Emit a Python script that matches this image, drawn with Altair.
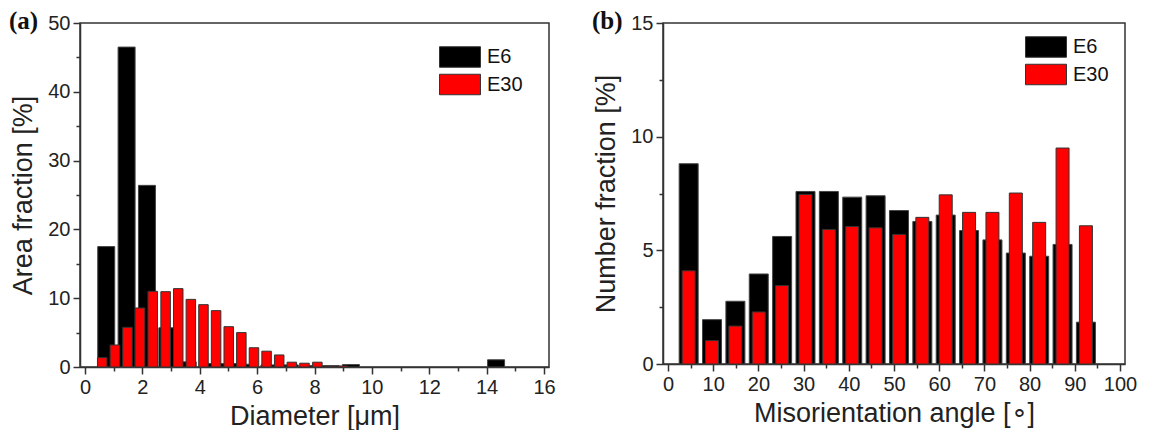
import altair as alt
import pandas as pd

# ---- Panel (a): grain diameter distribution ----
diam_e6_x = [0.74, 1.45, 2.16, 2.87, 3.58, 4.30, 5.01, 5.72, 6.43, 7.14, 7.85, 8.56, 9.27, 14.33]
diam_e6_y = [17.5, 46.5, 26.4, 5.7, 0.75, 0.5, 0.5, 0.4, 0.3, 0.3, 0.2, 0.2, 0.35, 1.05]
diam_e30_x = [0.60, 1.04, 1.48, 1.92, 2.36, 2.81, 3.25, 3.69, 4.13, 4.57,
              5.01, 5.45, 5.89, 6.33, 6.77, 7.21, 7.65, 8.10, 8.54, 8.98]
diam_e30_y = [1.36, 3.2, 5.77, 8.58, 11.0, 10.95, 11.39, 9.83, 9.06, 8.19,
              5.86, 5.0, 2.8, 2.3, 1.75, 0.7, 0.55, 0.7, 0.1, 0.15]

# ---- Panel (b): misorientation angle distribution ----
angle_x = [4.57, 9.74, 14.91, 20.08, 25.25, 30.42, 35.59, 40.76, 45.93,
           51.10, 56.27, 61.44, 66.61, 71.78, 76.95, 82.12, 87.29, 92.46]
angle_e6_y = [8.81, 1.95, 2.76, 3.96, 5.61, 7.59, 7.59, 7.34, 7.40,
              6.75, 6.27, 6.55, 5.87, 5.46, 4.88, 4.74, 5.26, 1.84]
angle_e30_y = [4.10, 1.03, 1.67, 2.29, 3.45, 7.46, 5.92, 6.05, 5.99,
               5.70, 6.45, 7.44, 6.67, 6.67, 7.52, 6.23, 9.50, 6.08]

series = ["E6", "E30"]
colors = ["#000000", "#ff0000"]
panel_labels = ["(a)", "(b)"]

FONT = "Liberation Sans"
color_scale = alt.Scale(domain=series, range=colors)


def legend(x, y):
    return alt.Legend(
        title=None, orient="none", legendX=x, legendY=y,
        symbolType="M-2,-1H2V1H-2Z", symbolSize=420,
        symbolStrokeColor="#333", symbolStrokeWidth=1, symbolOpacity=1,
        labelFont=FONT, labelFontSize=20, labelColor="#111",
        labelOffset=16, rowPadding=1.5, padding=0,
    )


def panel(xs_a, ys_a, xs_b, ys_b, xdom, ydom, xvals, yvals, xmaj, ymaj,
          xtitle, ytitle, wa, wb, leg, label, w, h):
    da = pd.DataFrame({"x": xs_a, "y": ys_a, "s": series[0]})
    db = pd.DataFrame({"x": xs_b, "y": ys_b, "s": series[1]})
    xax = alt.Axis(values=xvals, title=xtitle, labelFlush=False, labelOverlap=False,
                   labelExpr=f"datum.value % {xmaj} === 0 ? datum.label : ''",
                   tickSize={"condition": {"test": f"datum.value % {xmaj} === 0", "value": 7}, "value": 4},
                   labelPadding=3, titlePadding=6)
    yax = alt.Axis(values=yvals, title=ytitle, labelOverlap=False,
                   labelExpr=f"datum.value % {ymaj} === 0 ? datum.label : ''",
                   tickSize={"condition": {"test": f"datum.value % {ymaj} === 0", "value": 7}, "value": 4},
                   labelPadding=3, titlePadding=10)
    X = alt.X("x:Q", scale=alt.Scale(domain=xdom, nice=False, zero=False), axis=xax)
    Y = alt.Y("y:Q", scale=alt.Scale(domain=ydom, nice=False), axis=yax)
    C = alt.Color("s:N", scale=color_scale, legend=leg)
    bars_a = alt.Chart(da).mark_bar(size=wa, stroke="#444", strokeWidth=1, opacity=1).encode(x=X, y=Y, color=C)
    bars_b = alt.Chart(db).mark_bar(size=wb, stroke="#333", strokeWidth=1, opacity=1).encode(x=X, y=Y, color=C)
    txt = alt.Chart(pd.DataFrame({"t": [label]})).mark_text(
        font="Liberation Serif", fontWeight="bold", fontSize=25, align="left",
        baseline="alphabetic", color="#111"
    ).encode(x=alt.value(-71), y=alt.value(6), text="t:N")
    return alt.layer(bars_a, bars_b, txt).properties(width=w, height=h)


left = panel(diam_e6_x, diam_e6_y, diam_e30_x, diam_e30_y, [0, 16], [0, 50],
             list(range(0, 17)), list(range(0, 51, 5)), 2, 10,
             "Diameter [μm]", "Area fraction [%]", 17, 9.5,
             legend(369, 23), panel_labels[0], 469, 344)
right = panel(angle_x, angle_e6_y, angle_x, angle_e30_y, [0, 100], [0, 15],
              list(range(0, 101, 5)), [i * 2.5 for i in range(7)], 10, 5,
              "Misorientation angle [∘]", "Number fraction [%]", 19, 13,
              legend(372, 13), panel_labels[1], 462, 341)

chart = alt.hconcat(left, right, spacing=114, bounds="flush").resolve_scale(
    color="independent").resolve_legend(color="independent").configure_view(
    stroke="#333", strokeWidth=1.5).configure_axis(
    grid=False, domainColor="#333", domainWidth=1.5, tickColor="#333", tickWidth=1.5,
    labelFont=FONT, labelFontSize=20, labelColor="#222",
    titleFont=FONT, titleFontSize=27, titleFontWeight="normal", titleColor="#222",
).properties(padding={"left": 0, "top": 0, "right": 0, "bottom": 0})

chart.save("out.html", embed_options={"renderer": "svg", "actions": False})
